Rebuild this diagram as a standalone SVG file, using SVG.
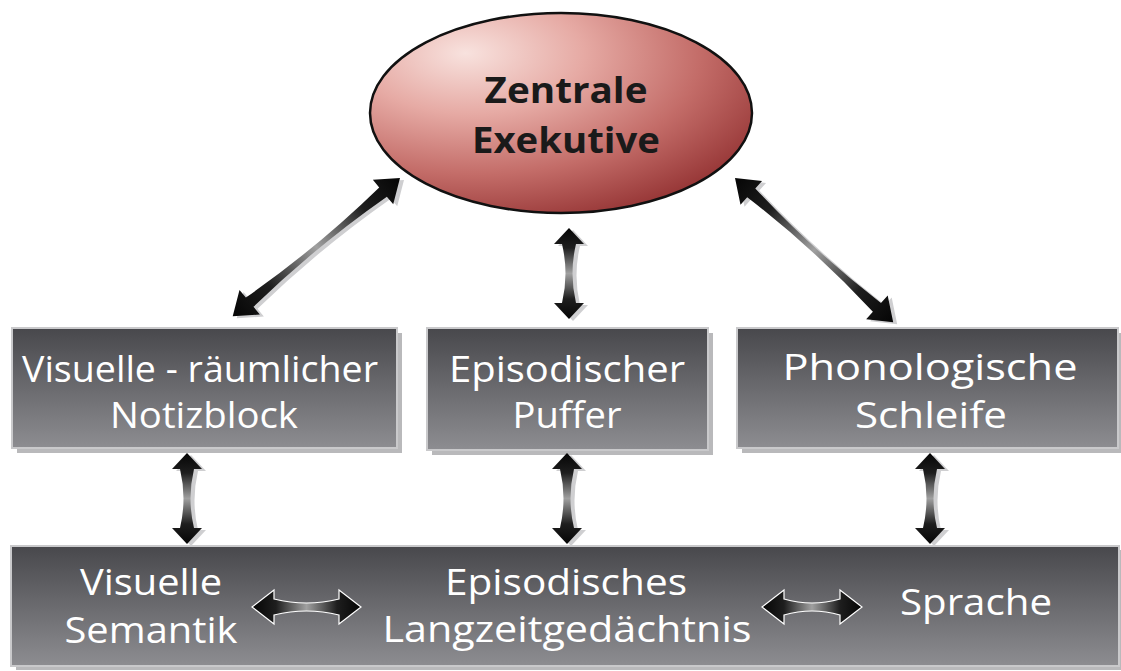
<svg xmlns="http://www.w3.org/2000/svg" xmlns:xlink="http://www.w3.org/1999/xlink" width="1121" height="671" viewBox="0 0 1121 671">
<defs>
<style>
.box{fill:url(#boxg);stroke:#c9c9cb;stroke-width:2}
.shadow{fill:#b9b9bb}
.t{font-family:"Open Sans","DejaVu Sans",sans-serif;font-size:36px;fill:#ffffff;text-anchor:middle}
.tb{font-family:"Open Sans","DejaVu Sans",sans-serif;font-size:35px;font-weight:bold;fill:#1a1a1a;text-anchor:middle}
.arr{fill:url(#arrg)}
.arrw{fill:url(#arrg);stroke:#ffffff;stroke-width:1.2}
.ash{fill:#cfcfd1}
</style>
<linearGradient id="boxg" x1="0" y1="0" x2="0" y2="1">
<stop offset="0" stop-color="#48484c"/>
<stop offset="1" stop-color="#8d8d91"/>
</linearGradient>
<radialGradient id="ellg" cx="0.28" cy="0.22" r="0.85" fx="0.25" fy="0.2">
<stop offset="0" stop-color="#f8e2de"/>
<stop offset="0.35" stop-color="#e6aaa4"/>
<stop offset="0.7" stop-color="#c36c68"/>
<stop offset="1" stop-color="#983838"/>
</radialGradient>
<linearGradient id="arrg" x1="0" y1="0" x2="1" y2="0">
<stop offset="0" stop-color="#050505"/>
<stop offset="0.22" stop-color="#1e1e1e"/>
<stop offset="0.5" stop-color="#a0a0a0"/>
<stop offset="0.78" stop-color="#1e1e1e"/>
<stop offset="1" stop-color="#050505"/>
</linearGradient>
<path id="a91" d="M0,0 L16,-15 L16,-7 Q45.5,0 75,-7 L75,-15 L91,0 L75,15 L75,7 Q45.5,0 16,7 L16,15 Z"/>
<path id="h109" d="M0,0 L22,-17 L22,-8 Q54.5,0 87,-8 L87,-17 L109,0 L87,17 L87,8 Q54.5,0 22,8 L22,17 Z"/>
<path id="h100" d="M0,0 L22,-17 L22,-8 Q50,0 78,-8 L78,-17 L100,0 L78,17 L78,8 Q50,0 22,8 L22,17 Z"/>
<path id="d217" d="M0,0 L22,-16 L22,-6 Q108.5,1 195,-6 L195,-16 L217,0 L195,16 L195,6 Q108.5,-1 22,6 L22,16 Z"/>
<path id="d214" d="M0,0 L22,-16 L22,-6 Q107,1 192,-6 L192,-16 L214,0 L192,16 L192,6 Q107,-1 22,6 L22,16 Z"/>
</defs>
<rect width="1121" height="671" fill="#ffffff"/>

<g id="zentrale">
<ellipse cx="561" cy="113" rx="191" ry="100" fill="url(#ellg)" stroke="#111" stroke-width="2.5"/>
<text class="tb" x="566" y="103" textLength="163" lengthAdjust="spacingAndGlyphs">Zentrale</text>
<text class="tb" x="566" y="153" textLength="188" lengthAdjust="spacingAndGlyphs">Exekutive</text>
</g>

<g id="notizblock">
<rect class="shadow" x="17" y="333" width="385" height="120"/>
<rect class="box" x="12" y="328" width="385" height="120"/>
<text class="t" x="200" y="382" textLength="356" lengthAdjust="spacingAndGlyphs">Visuelle - räumlicher</text>
<text class="t" x="204" y="428" textLength="188" lengthAdjust="spacingAndGlyphs">Notizblock</text>
</g>

<g id="puffer">
<rect class="shadow" x="432" y="333" width="281" height="122"/>
<rect class="box" x="427" y="328" width="281" height="122"/>
<text class="t" x="567" y="382" textLength="236" lengthAdjust="spacingAndGlyphs">Episodischer</text>
<text class="t" x="567" y="428" textLength="109" lengthAdjust="spacingAndGlyphs">Puffer</text>
</g>

<g id="schleife">
<rect class="shadow" x="742" y="333" width="381" height="120"/>
<rect class="box" x="737" y="328" width="381" height="120"/>
<text class="t" x="930" y="380" textLength="295" lengthAdjust="spacingAndGlyphs">Phonologische</text>
<text class="t" x="931" y="428" textLength="152" lengthAdjust="spacingAndGlyphs">Schleife</text>
</g>

<g id="langzeit">
<rect class="shadow" x="16" y="550" width="1108" height="120"/>
<rect class="box" x="11" y="546" width="1108" height="120"/>
<text class="t" x="151" y="595" textLength="142" lengthAdjust="spacingAndGlyphs">Visuelle</text>
<text class="t" x="151" y="643" textLength="173" lengthAdjust="spacingAndGlyphs">Semantik</text>
<text class="t" x="566" y="595" textLength="242" lengthAdjust="spacingAndGlyphs">Episodisches</text>
<text class="t" x="567" y="642" textLength="369" lengthAdjust="spacingAndGlyphs">Langzeitgedächtnis</text>
<text class="t" x="976" y="615" textLength="152" lengthAdjust="spacingAndGlyphs">Sprache</text>
</g>

<g id="connectors">
<g transform="translate(4,2)">
<use href="#d217" class="ash" transform="translate(400,178) rotate(140.43)"/>
<use href="#d214" class="ash" transform="translate(735,178) rotate(42.34)"/>
<use href="#a91" class="ash" transform="translate(569,228) rotate(90)"/>
<use href="#a91" class="ash" transform="translate(187,453) rotate(90)"/>
<use href="#a91" class="ash" transform="translate(567,453) rotate(90)"/>
<use href="#a91" class="ash" transform="translate(930,453) rotate(90)"/>
</g>
<use href="#d217" class="arr" transform="translate(400,178) rotate(140.43)"/>
<use href="#d214" class="arr" transform="translate(735,178) rotate(42.34)"/>
<use href="#a91" class="arr" transform="translate(569,228) rotate(90)"/>
<use href="#a91" class="arr" transform="translate(187,453) rotate(90)"/>
<use href="#a91" class="arr" transform="translate(567,453) rotate(90)"/>
<use href="#a91" class="arr" transform="translate(930,453) rotate(90)"/>
<use href="#h109" class="arrw" transform="translate(252,607)"/>
<use href="#h100" class="arrw" transform="translate(762,607)"/>
</g>
</svg>
